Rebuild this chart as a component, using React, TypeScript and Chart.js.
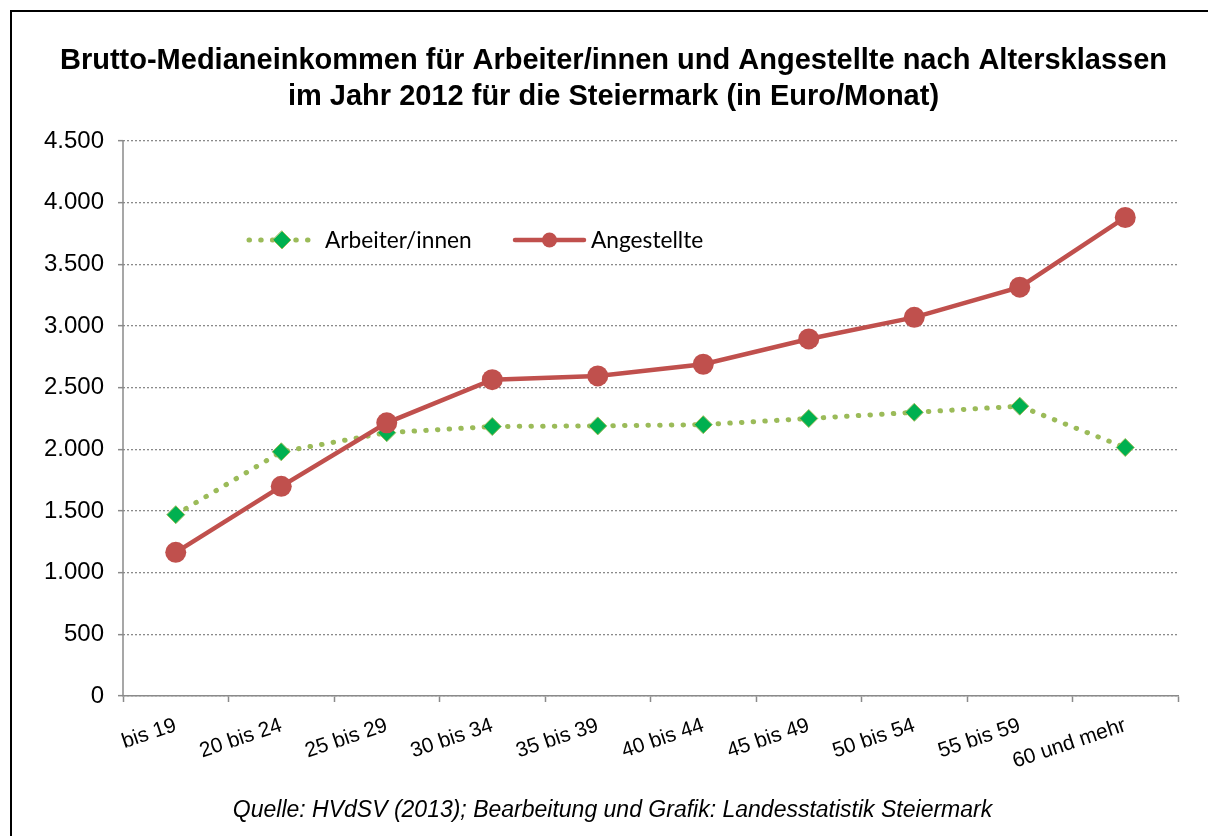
import React, { useEffect, useRef } from "react";
import { Chart, registerables } from "chart.js";

Chart.register(...registerables);

const categories = [
  "bis 19",
  "20 bis 24",
  "25 bis 29",
  "30 bis 34",
  "35 bis 39",
  "40 bis 44",
  "45 bis 49",
  "50 bis 54",
  "55 bis 59",
  "60 und mehr",
];
const arbeiterValues = [1470, 1980, 2135, 2185, 2190, 2200, 2250, 2300, 2350, 2015];
const angestellteValues = [1165, 1700, 2215, 2565, 2595, 2690, 2895, 3070, 3315, 3880];
const yTicks = [0, 500, 1000, 1500, 2000, 2500, 3000, 3500, 4000, 4500];

const titleLines = [
  "Brutto-Medianeinkommen für Arbeiter/innen und Angestellte nach Altersklassen",
  "im Jahr 2012 für die Steiermark (in Euro/Monat)",
];
const footerText = "Quelle: HVdSV (2013); Bearbeitung und Grafik: Landesstatistik Steiermark";
const seriesNames = ["Arbeiter/innen", "Angestellte"];

const GREEN_LINE = "#9BBB59";
const GREEN_MARK = "#00B050";
const RED = "#C0504D";
const GRID = "#8a8a8a";

const fmt = (v: number) => String(v).replace(/\B(?=(\d{3})+(?!\d))/g, ".");

const axisLinePlugin = {
  id: "axisLine",
  beforeDatasetsDraw(chart: any) {
    const ctx = chart.ctx as CanvasRenderingContext2D;
    const a = chart.chartArea;
    ctx.save();
    ctx.strokeStyle = GRID;
    ctx.lineWidth = 1.5;
    ctx.setLineDash([]);
    ctx.beginPath();
    ctx.moveTo(a.left, a.top);
    ctx.lineTo(a.left, a.bottom);
    ctx.stroke();
    ctx.restore();
  },
};

const decorPlugin = {
  id: "decor",
  afterDraw(chart: any) {
    const ctx = chart.ctx as CanvasRenderingContext2D;
    ctx.save();
    // frame
    ctx.fillStyle = "#000";
    ctx.fillRect(10, 10, 2, 840);
    ctx.fillRect(10, 10, 1210, 2);
    // title
    ctx.font = "bold 29px 'Liberation Sans', Arial, sans-serif";
    ctx.textAlign = "center";
    ctx.textBaseline = "alphabetic";
    ctx.fillText(titleLines[0], 613.5, 69);
    ctx.fillText(titleLines[1], 613.5, 105);
    // footer
    ctx.font = "italic 23px 'Liberation Sans', Arial, sans-serif";
    ctx.fillText(footerText, 612.5, 817);

    // legend
    const ly = 240;
    ctx.strokeStyle = GREEN_LINE;
    ctx.lineWidth = 5;
    ctx.lineCap = "round";
    ctx.setLineDash([0.5, 11.2]);
    ctx.beginPath();
    ctx.moveTo(249, ly);
    ctx.lineTo(311, ly);
    ctx.stroke();
    ctx.setLineDash([]);
    ctx.fillStyle = GREEN_MARK;
    ctx.strokeStyle = GREEN_LINE;
    ctx.lineWidth = 1;
    ctx.beginPath();
    ctx.moveTo(282, ly - 9);
    ctx.lineTo(291, ly);
    ctx.lineTo(282, ly + 9);
    ctx.lineTo(273, ly);
    ctx.closePath();
    ctx.fill();
    ctx.stroke();
    ctx.strokeStyle = RED;
    ctx.lineWidth = 4.5;
    ctx.lineCap = "round";
    ctx.beginPath();
    ctx.moveTo(515, ly);
    ctx.lineTo(584, ly);
    ctx.stroke();
    ctx.fillStyle = RED;
    ctx.beginPath();
    ctx.arc(549.5, ly, 7.5, 0, Math.PI * 2);
    ctx.fill();
    ctx.fillStyle = "#000";
    ctx.textAlign = "left";
    ctx.font = "22.7px Lato, 'Open Sans', sans-serif";
    ctx.fillText(seriesNames[0], 325, 248);
    ctx.fillText(seriesNames[1], 591, 248);
    ctx.restore();
  },
};

export default function App() {
  const ref = useRef<HTMLCanvasElement | null>(null);
  useEffect(() => {
    if (!ref.current) return;
    const chart = new Chart(ref.current, {
      type: "line",
      data: {
        labels: categories,
        datasets: [
          {
            label: seriesNames[0],
            data: arbeiterValues,
            borderColor: GREEN_LINE,
            borderWidth: 5,
            borderDash: [0.5, 11.2],
            borderCapStyle: "round",
            pointStyle: "rectRot",
            pointRadius: 9,
            pointBackgroundColor: GREEN_MARK,
            pointBorderColor: GREEN_LINE,
            pointBorderWidth: 1,
            tension: 0,
            order: 2,
          },
          {
            label: seriesNames[1],
            data: angestellteValues,
            borderColor: RED,
            borderWidth: 4.5,
            pointStyle: "circle",
            pointRadius: 10.5,
            pointBackgroundColor: RED,
            pointBorderColor: RED,
            pointBorderWidth: 0,
            tension: 0,
            order: 1,
          },
        ],
      },
      options: {
        responsive: false,
        animation: false,
        layout: { padding: { left: 0, right: 30, top: 141, bottom: 0 } },
        plugins: {
          legend: { display: false },
          title: { display: false },
          tooltip: { enabled: false },
        },
        scales: {
          x: {
            type: "category",
            offset: true,
            grid: {
              offset: true,
              drawOnChartArea: false,
              drawTicks: true,
              tickLength: 6,
              tickColor: GRID,
              tickWidth: 1.5,
            },
            border: { display: true, color: GRID, width: 1.5 },
            ticks: {
              color: "#000",
              font: { family: "'Liberation Sans', Arial, sans-serif", size: 21 },
              minRotation: 18.5,
              maxRotation: 18.5,
              autoSkip: false,
              padding: 11,
            },
            afterFit: (s: any) => {
              s.height = 140;
            },
          },
          y: {
            min: 0,
            max: 4500,
            afterBuildTicks: (s: any) => {
              s.ticks = yTicks.map((v) => ({ value: v }));
            },
            grid: {
              color: GRID,
              lineWidth: 1.3,
              tickBorderDash: [],
              drawTicks: true,
              tickLength: 5,
              tickColor: GRID,
              tickWidth: 1.5,
            },
            border: { display: false, dash: [2, 2] },
            ticks: {
              color: "#000",
              font: { family: "'Liberation Sans', Arial, sans-serif", size: 24 },
              padding: 14,
              callback: (v: any) => fmt(Number(v)),
            },
            afterFit: (s: any) => {
              s.width = 123;
            },
          },
        },
      },
      plugins: [axisLinePlugin, decorPlugin],
    });
    return () => chart.destroy();
  }, []);
  return (
    <div style={{ position: "fixed", left: 0, top: 0, width: 1208, height: 836, background: "#fff" }}>
      <canvas ref={ref} width={1208} height={836} style={{ display: "block" }} />
    </div>
  );
}
